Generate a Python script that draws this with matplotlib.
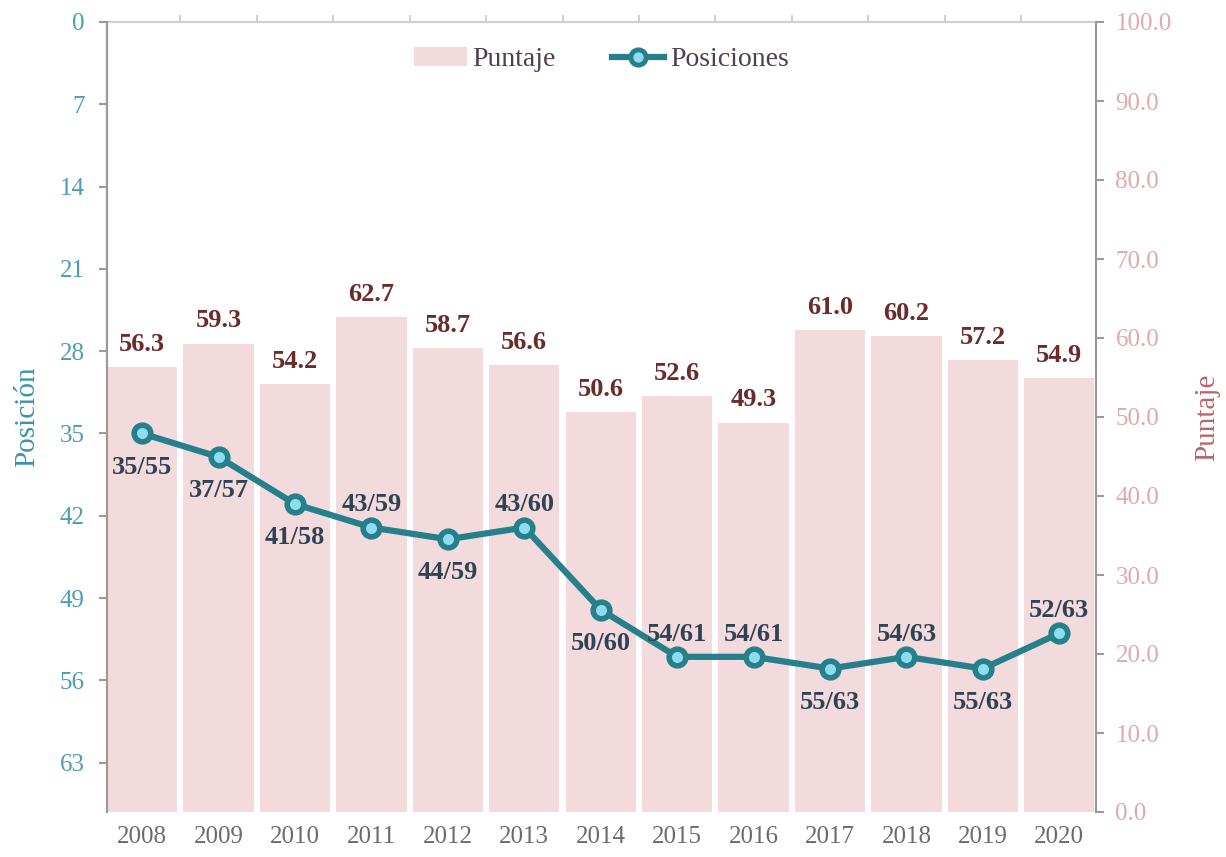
import numpy as np
import matplotlib.pyplot as plt
from matplotlib.lines import Line2D
from matplotlib.patches import Patch

# --- Data ---
years = ["2008", "2009", "2010", "2011", "2012", "2013", "2014",
         "2015", "2016", "2017", "2018", "2019", "2020"]
puntaje = [56.3, 59.3, 54.2, 62.7, 58.7, 56.6, 50.6, 52.6, 49.3, 61.0, 60.2, 57.2, 54.9]
posicion = [35, 37, 41, 43, 44, 43, 50, 54, 54, 55, 54, 55, 52]
total = [55, 57, 58, 59, 59, 60, 60, 61, 61, 63, 63, 63, 63]
label_above = [False, False, False, True, False, True, False, True, True, False, True, False, True]

# --- Colors ---
bar_c = "#f3dadd"
line_c = "#25808c"
marker_face = "#8fdcef"
left_tick_c = "#4a9db5"
right_tick_c = "#e0a9ab"
val_c = "#6b2b2b"
pos_c = "#2f4352"
spine_c = "#9a9a9a"

plt.rcParams['font.family'] = ['Liberation Serif', 'DejaVu Serif']

fig = plt.figure(figsize=(12.26, 8.57), dpi=100)
ax = fig.add_axes([107 / 1226, 1 - 812 / 857, (1096 - 107) / 1226, (812 - 22) / 857])
ax2 = ax.twinx()

x = np.arange(len(years))
w = 0.92

# bars on right axis (Puntaje)
ax2.bar(x, puntaje, width=w, color=bar_c, edgecolor="none")
for xi, v in zip(x, puntaje):
    ax2.annotate(f"{v:.1f}", (xi, v), xytext=(0, 8), textcoords="offset points",
                 ha="center", va="bottom", fontsize=19, fontweight="bold", color=val_c)
ax2.set_ylim(0, 100)
ax2.set_yticks(np.arange(0, 101, 10))
ax2.set_yticklabels([f"{t:.1f}" for t in np.arange(0, 101, 10)])
ax2.tick_params(axis="y", colors=spine_c, labelcolor=right_tick_c, labelsize=18,
                length=6, width=1.5, pad=8)
ax2.set_ylabel("Puntaje", color="#b8676b", fontsize=21, labelpad=16)

# line on left axis (Posición), drawn above bars
ax.set_zorder(ax2.get_zorder() + 1)
ax.patch.set_visible(False)
ax.plot(x, posicion, color=line_c, lw=4.5, marker="o", ms=12,
        markerfacecolor=marker_face, markeredgecolor=line_c, markeredgewidth=4)
for xi, p, t, up in zip(x, posicion, total, label_above):
    off = 8 if up else -16
    ax.annotate(f"{p}/{t}", (xi, p), xytext=(0, off), textcoords="offset points",
                ha="center", va="bottom" if up else "top",
                fontsize=19, fontweight="bold", color=pos_c)
ax.set_ylim(67.2, 0)
ax.set_yticks(np.arange(0, 64, 7))
ax.tick_params(axis="y", colors=spine_c, labelcolor=left_tick_c, labelsize=18,
               length=6, width=1.5, pad=10)
ax.set_ylabel("Posición", color="#3a93ab", fontsize=21, labelpad=14)

ax.set_xlim(-w / 2, len(years) - 1 + w / 2 + 0.02)
ax.set_xticks(x)
ax.set_xticklabels(years)
ax.tick_params(axis="x", length=0, labelsize=18, labelcolor="#6b6b6b", pad=10)

# top tick marks between categories
top = ax.secondary_xaxis("top")
top.set_xticks(np.arange(0.5, len(years) - 1, 1))
top.set_xticklabels([])
top.tick_params(length=5, width=1.2, color="#c8c8c8", direction="out")
top.spines["top"].set_color("#cfcfcf")
top.spines["top"].set_linewidth(1.5)

for a in (ax, ax2):
    a.spines["bottom"].set_visible(False)
    a.spines["top"].set_visible(False)
    a.spines["left"].set_color(spine_c)
    a.spines["right"].set_color(spine_c)
    a.spines["left"].set_linewidth(1.5)
    a.spines["right"].set_linewidth(1.5)

handles = [Patch(facecolor=bar_c, edgecolor="none"),
           Line2D([0], [0], color=line_c, lw=4.5, marker="o", ms=11,
                  markerfacecolor=marker_face, markeredgecolor=line_c, markeredgewidth=3.5)]
ax.legend(handles, ["Puntaje", "Posiciones"], loc="upper center", ncol=2, frameon=False,
          fontsize=20, bbox_to_anchor=(0.5, 1.0), handlelength=1.9, handletextpad=0.2,
          columnspacing=2.0, labelcolor="#4f3f4f")

fig.savefig("out.png", dpi=100)
